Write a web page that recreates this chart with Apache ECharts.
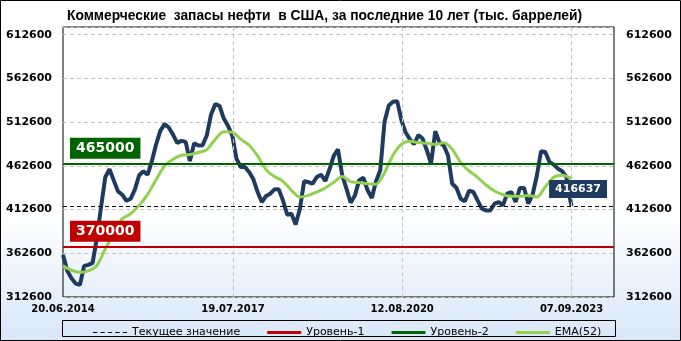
<!DOCTYPE html>
<html>
<head>
<meta charset="utf-8">
<script src="https://cdn.jsdelivr.net/npm/echarts@6/dist/echarts.min.js"></script>
<style>
  html, body { margin: 0; padding: 0; }
  #chart {
    width: 681px;
    height: 341px;
    background: linear-gradient(to bottom, #ffffff 0%, #ffffff 62%, #d9e7f8 100%);
  }
</style>
</head>
<body>
<div id="chart"></div>
<script>
  const startDate = [2014, 5, 20];
  const stepDays = 28;
  const lastDate = [2023, 8, 7];
  const stocks = [
    360800, 342800, 334000, 327900, 326400, 348200, 349300, 351600, 379900, 415500,
    449900, 458700, 446000, 433400, 429600, 422700, 425000, 435700, 451800, 456400,
    452500, 467800, 487000, 502600, 510300, 506400, 498400, 488900, 491200, 490000,
    468200, 488500, 485800, 486200, 497700, 521400, 533200, 531300, 516800, 508400,
    497700, 470900, 461300, 461300, 455600, 447200, 432700, 421200, 428100, 430800,
    435700, 435700, 423100, 406700, 407800, 395600, 413600, 444900, 444100, 442200,
    449900, 452500, 445300, 458700, 474000, 481600, 451800, 436500, 420400, 428800,
    446000, 449100, 434600, 425800, 444900, 457500, 512900, 531700, 535900, 536600,
    514900, 500700, 493100, 487300, 497700, 493800, 480500, 465200, 502200, 489200,
    485800, 474700, 442200, 437600, 425000, 422000, 434200, 432700, 423100, 413600,
    411600, 411600, 419300, 421200, 417400, 430800, 432700, 421200, 437300, 437300,
    419300, 429600, 451000, 479300, 478500, 467100, 464000, 459400, 456400, 449900,
    421200, 416637
  ];
  // EMA(52) с шагом 8 недель
  const emaStepDays = 56;
  const ema52 = [
    348200, 343200, 340900, 342500, 348600, 367700, 384900, 402100, 407800, 417400,
    430000, 446800, 462500, 470100, 474700, 475500, 477800, 481200, 493100, 501500,
    501100, 493100, 486200, 474000, 458300, 450300, 444900, 434600, 426900, 428800,
    432700, 437300, 443800, 450300, 444500, 443400, 442200, 441500, 454800, 474700,
    487300, 490800, 489200, 488500, 487000, 488900, 481600, 466300, 456800, 449500,
    440700, 433800, 429600, 427700, 427700, 428800, 426900, 438400, 449500, 451800,
    448700, 447500
  ];
  const level1 = 370000;
  const level2 = 465000;
  const labelDates = [[2014, 5, 20], [2017, 6, 19], [2020, 7, 12], [2023, 8, 7]];
  const axisEndDate = [2024, 5, 14];
  const yMin = 312600;
  const yMax = 621400;
  const yStep = 50000;

  const font = 'DejaVu Sans';
  const gridColor = '#c4c4c4';
  const ts = d => new Date(d[0], d[1], d[2]).getTime();
  const dayTs = n => new Date(startDate[0], startDate[1], startDate[2] + n).getTime();
  const pad = n => (n < 10 ? '0' : '') + n;
  const fmtDate = v => {
    const d = new Date(v);
    return pad(d.getDate()) + '.' + pad(d.getMonth() + 1) + '.' + d.getFullYear();
  };

  const lastValue = stocks[stocks.length - 1];
  const stockData = stocks.map((v, i) =>
    [i === stocks.length - 1 ? ts(lastDate) : dayTs(i * stepDays), v]);
  const emaData = ema52.map((v, i) =>
    [i === ema52.length - 1 ? ts(lastDate) : dayTs(i * emaStepDays), v]);
  const tickValues = labelDates.map(ts);

  // пунктир для значка легенды
  const dashIcon = 'path://M0,0h4v1h-4z M7,0h4v1h-4z M14,0h4v1h-4z M21,0h4v1h-4z M28,0h4v1h-4z';

  const myChart = echarts.init(document.getElementById('chart'));

  const yAxisBase = pos => ({
    type: 'value',
    position: pos,
    min: yMin,
    max: yMax,
    interval: yStep,
    axisLine: { show: false },
    axisTick: { show: false },
    splitLine: {
      show: pos === 'left',
      lineStyle: { type: [4, 3], color: gridColor, width: 1 }
    },
    axisLabel: {
      showMaxLabel: false,
      formatter: v => String(v),
      margin: pos === 'left' ? 11 : 12,
      color: '#000',
      fontFamily: font,
      fontWeight: 'bold',
      fontSize: 11
    }
  });

  const levelLine = (value, color, bg, width, dash, pos, dist, fontSize, padding) => ({
    silent: true,
    symbol: 'none',
    animation: false,
    data: [{ yAxis: value }],
    lineStyle: { color: color, width: width, type: dash },
    label: {
      position: pos,
      distance: dist,
      formatter: String(value),
      color: '#fff',
      backgroundColor: bg,
      fontFamily: font,
      fontWeight: 'bold',
      fontSize: fontSize,
      padding: padding
    }
  });

  myChart.setOption({
    animation: false,
    backgroundColor: 'transparent',
    title: {
      text: 'Коммерческие  запасы нефти  в США, за последние 10 лет (тыс. баррелей)',
      left: 62,
      top: 4,
      textStyle: { fontFamily: 'Liberation Sans', fontWeight: 'bold', fontSize: 13.8, color: '#000' }
    },
    grid: {
      left: 63,
      right: 67,
      top: 27,
      bottom: 44,
      show: true,
      borderColor: '#000',
      borderWidth: 1,
      backgroundColor: 'transparent'
    },
    legend: {
      left: 88,
      top: 322,
      itemWidth: 34,
      itemHeight: 3,
      itemGap: 27,
      textStyle: { fontFamily: font, fontSize: 11, color: '#000' },
      data: [
        { name: 'Текущее значение', icon: dashIcon },
        { name: 'Уровень-1', icon: 'rect' },
        { name: 'Уровень-2', icon: 'rect' },
        { name: 'EMA(52)', icon: 'rect' }
      ]
    },
    xAxis: {
      type: 'value',
      min: ts(startDate),
      max: ts(axisEndDate),
      axisLine: { show: false },
      axisTick: { show: false, customValues: tickValues },
      splitLine: { show: false },
      axisLabel: {
        customValues: tickValues,
        formatter: fmtDate,
        margin: 7,
        color: '#000',
        fontFamily: font,
        fontWeight: 'bold',
        fontSize: 10
      }
    },
    yAxis: [yAxisBase('left'), yAxisBase('right')],
    graphic: [
      {
        type: 'rect',
        shape: { x: 0.5, y: 0.5, width: 680, height: 340 },
        style: { fill: 'none', stroke: '#000', lineWidth: 1 },
        silent: true
      },
      {
        type: 'rect',
        shape: { x: 62.5, y: 320.5, width: 553, height: 16 },
        style: { fill: 'none', stroke: '#000', lineWidth: 1 },
        silent: true
      }
    ],
    series: [
      {
        // вертикальная сетка по датам подписей
        name: 'grid-x',
        type: 'line',
        data: [],
        z: 1,
        markLine: {
          silent: true,
          symbol: 'none',
          animation: false,
          label: { show: false },
          lineStyle: { type: [4, 3], color: gridColor, width: 1 },
          data: tickValues.slice(1).map(v => ({ xAxis: v }))
        }
      },
      {
        name: 'Запасы',
        type: 'line',
        data: stockData,
        symbol: 'none',
        lineStyle: { color: '#1f3a5f', width: 4 },
        itemStyle: { color: '#1f3a5f' },
        z: 2
      },
      {
        name: 'EMA(52)',
        type: 'line',
        data: emaData,
        symbol: 'none',
        smooth: 0.3,
        lineStyle: { color: '#92d050', width: 3 },
        itemStyle: { color: '#92d050' },
        z: 3
      },
      {
        name: 'Уровень-1',
        type: 'line',
        data: [],
        symbol: 'none',
        itemStyle: { color: '#c00000' },
        z: 4,
        markLine: levelLine(level1, '#c00000', '#c00000', 2, 'solid', 'insideStartTop', [7, 5], 14, [4, 6, 3, 6])
      },
      {
        name: 'Уровень-2',
        type: 'line',
        data: [],
        symbol: 'none',
        itemStyle: { color: '#006400' },
        z: 4,
        markLine: levelLine(level2, '#006400', '#006400', 2, 'solid', 'insideStartTop', [7, 5], 14, [4, 6, 3, 6])
      },
      {
        name: 'Текущее значение',
        type: 'line',
        data: [],
        symbol: 'none',
        itemStyle: { color: '#000' },
        z: 5,
        markLine: levelLine(lastValue, '#000', '#1f3a5f', 1, [4, 3], 'insideEndTop', [7, 8], 11, [4, 6, 3, 6])
      }
    ]
  });
</script>
</body>
</html>
